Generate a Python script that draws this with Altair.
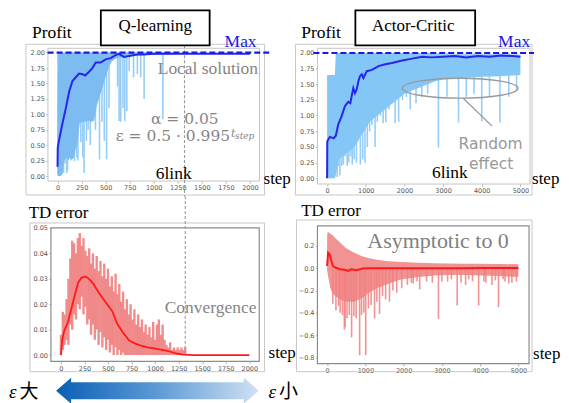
import altair as alt
import pandas as pd

# ---------------- data ----------------
# Q-learning profit: smoothed line
q_line_step = [0, 2, 17, 52, 86, 121, 155, 190, 224, 259,
               286, 328, 362, 397, 448, 500, 552, 604, 638, 690,
               759, 828, 900, 1000, 1250, 1500, 1750, 2000]
q_line_val = [0.15, 0.46, 0.59, 0.86, 1.10, 1.37, 1.54, 1.60, 1.66, 1.65,
              1.63, 1.69, 1.75, 1.84, 1.84, 1.89, 1.91, 1.96, 1.98, 1.93,
              1.95, 1.97, 1.97, 1.98, 1.98, 1.98, 1.98, 1.98]
# Q-learning profit: dense raw band
q_band_step = [0, 8, 30, 50, 70, 90, 110, 130, 150, 170, 190, 210, 230, 260, 290, 320, 350,
               380, 410, 440, 470, 500, 530, 560, 600, 650, 700, 800, 900, 1000, 1100, 1200, 1250]
q_band_lo = [0.0, 0.0, 0.0, 0.02, 0.25, 0.3, 0.25, 0.3, 0.27, 0.3, 0.45, 0.55, 0.85, 0.88, 0.88, 0.9, 0.88,
             0.9, 1.15, 1.3, 1.45, 1.6, 1.75, 1.85, 1.9, 1.92, 1.93, 1.95, 1.96, 1.96, 1.97, 1.97, 1.98]
q_band_hi = [1.05, 2.0, 2.0, 2.0, 2.0, 2.0, 2.0, 2.0, 2.0, 2.0, 2.0, 2.0, 2.0, 2.0, 2.0, 2.0, 2.0,
             2.0, 2.0, 2.0, 2.0, 2.0, 2.0, 2.0, 2.0, 2.0, 2.0, 2.0, 2.0, 2.0, 2.0, 2.0, 2.0]
# Q-learning profit: downward spikes
q_spike_step = [4, 62, 78, 96, 104, 138, 146, 160, 176, 200,
                212, 242, 262, 276, 300, 318, 340, 362, 394, 436,
                462, 486, 510, 535, 624, 640, 657, 680, 699, 720,
                745, 790, 830, 865, 900, 1095]
q_spike_lo = [0.02, 0.05, 0.2, 0.05, 0.1, 0.25, 0.27, 0.3, 0.24, 0.3,
              0.25, 0.55, 0.3, 0.05, 0.57, 0.75, 0.5, 0.88, 0.75, 0.27,
              0.88, 0.57, 0.27, 1.1, 1.45, 0.89, 0.88, 1.1, 0.89, 1.05,
              1.7, 1.6, 1.65, 1.6, 1.25, 0.92]

# Actor-Critic profit: smoothed line
ac_line_step = [0, 5, 30, 70, 120, 170, 225, 287, 374, 460,
                548, 600, 635, 678, 722, 765, 809, 850, 896, 939,
                1026, 1157, 1330, 1504, 1678, 1939, 2200, 2460, 2700, 3000,
                3300, 3600, 3900, 4200, 4500, 4800, 5000]
ac_line_val = [0.0, 0.59, 0.62, 0.66, 0.65, 0.64, 0.68, 0.86, 0.99, 1.15,
               1.22, 1.2, 1.31, 1.44, 1.36, 1.42, 1.55, 1.63, 1.66, 1.6,
               1.71, 1.73, 1.79, 1.82, 1.84, 1.88, 1.91, 1.94, 1.93, 1.94,
               1.95, 1.93, 1.95, 1.94, 1.96, 1.95, 1.94]
ac_band_step = [0, 100, 200, 225, 300, 400, 500, 600, 700, 800, 900, 1000, 1100, 1200, 1300,
                1400, 1500, 1600, 1800, 2000, 2200, 2400, 2600, 2800, 3000, 3500, 4000, 4500, 5000]
ac_band_hi = [1.65, 1.65, 1.65, 2.0, 2.0, 2.0, 2.0, 2.0, 2.0, 2.0, 2.0, 2.0, 2.0, 2.0, 2.0,
              2.0, 2.0, 2.0, 2.0, 2.0, 2.0, 2.0, 2.0, 1.99, 1.98, 1.98, 1.98, 1.98, 1.97]
ac_band_lo = [0.0, 0.0, 0.0, 0.05, 0.3, 0.35, 0.4, 0.45, 0.5, 0.6, 0.7, 0.8, 0.9, 0.95, 1.0,
              1.05, 1.1, 1.15, 1.25, 1.35, 1.4, 1.45, 1.5, 1.55, 1.58, 1.6, 1.62, 1.63, 1.65]
ac_spike_step = [260, 290, 330, 380, 420, 470, 520, 560, 610, 650,
                 700, 760, 800, 860, 920, 980, 1040, 1100, 1160, 1240,
                 1300, 1380, 1450, 1520, 1600, 1680, 1760, 1850, 1950, 2050,
                 2150, 2300, 2450, 2600, 2880, 3100, 3400, 3600, 3800, 4000,
                 4200, 4470, 4700, 4900]
ac_spike_lo = [0.02, 0.2, 0.05, 0.2, 0.22, 0.35, 0.2, 0.25, 0.35, 0.22,
               0.3, 0.25, 0.6, 0.22, 0.3, 0.25, 0.5, 0.75, 0.85, 0.5,
               0.9, 1.0, 0.88, 0.9, 1.1, 1.2, 0.88, 0.9, 1.25, 1.3,
               1.1, 1.2, 1.3, 1.35, 0.49, 1.3, 0.89, 1.3, 1.35, 0.91,
               1.3, 0.89, 1.3, 1.4]

# Q-learning TD error
tdq_line_step = [0, 15, 36, 73, 109, 146, 182, 218, 250, 273,
                 309, 346, 400, 473, 546, 600, 660, 725, 790, 850,
                 920, 990, 1060, 1130, 1200, 1240, 1300, 1400, 1600, 1800, 2000]
tdq_line_val = [0.0, 0.0063, 0.0096, 0.0128, 0.018, 0.0233, 0.0285, 0.0304, 0.0308, 0.0307,
                0.0296, 0.0279, 0.0246, 0.0209, 0.0172, 0.0122, 0.0088, 0.0057, 0.0045, 0.0037,
                0.0030, 0.0026, 0.0021, 0.0016, 0.0009, 0.0005, 0.0002, 0.0, 0.0, 0.0, 0.0]
tdq_raw_step = [0, 20, 40, 60, 80, 100, 120, 140, 160, 180,
                200, 220, 240, 260, 280, 300, 320, 340, 360, 380,
                400, 420, 440, 460, 480, 500, 520, 540, 560, 580,
                600, 620, 640, 660, 680, 700, 720, 740, 760, 780,
                800, 820, 840, 860, 880, 900, 920, 940, 960, 980,
                1000, 1020, 1040, 1060, 1080, 1100, 1120, 1140, 1160, 1180,
                1200, 1220, 1240, 1260, 1280, 1300, 1320]
tdq_raw_hi = [0.008, 0.017, 0.016, 0.022, 0.030, 0.038, 0.045, 0.044, 0.040, 0.046,
              0.048, 0.043, 0.046, 0.041, 0.039, 0.042, 0.036, 0.040, 0.034, 0.039,
              0.033, 0.037, 0.031, 0.036, 0.030, 0.034, 0.027, 0.031, 0.025, 0.032,
              0.024, 0.028, 0.021, 0.025, 0.018, 0.022, 0.016, 0.020, 0.014, 0.018,
              0.012, 0.016, 0.011, 0.014, 0.009, 0.012, 0.008, 0.011, 0.007, 0.013,
              0.006, 0.012, 0.014, 0.008, 0.012, 0.006, 0.004, 0.003, 0.005, 0.002,
              0.003, 0.002, 0.003, 0.002, 0.003, 0.002, 0.003]
tdq_raw_lo = [0.000, 0.002, 0.004, 0.006, 0.004, 0.012, 0.010, 0.016, 0.014, 0.020,
              0.018, 0.023, 0.016, 0.019, 0.012, 0.014, 0.008, 0.012, 0.006, 0.010,
              0.004, 0.009, 0.003, 0.007, 0.002, 0.006, 0.001, 0.004, 0.000, 0.003,
              0.000, 0.002, 0.000, 0.001, 0.000, 0.000, 0.000, 0.000, 0.000, 0.000,
              0.000, 0.000, 0.000, 0.000, 0.000, 0.000, 0.000, 0.000, 0.000, 0.000,
              0.000, 0.000, 0.000, 0.000, 0.000, 0.000, 0.000, 0.000, 0.000, 0.000,
              0.000, 0.000, 0.000, 0.000, 0.000, 0.000, 0.000]

# Actor-Critic TD error
tda_line_step = [0, 25, 68, 100, 150, 210, 340, 466, 550, 635, 760, 930, 1100,
                 1500, 2000, 2500, 3000, 3500, 4000, 4500, 5000]
tda_line_val = [0.02, 0.14, 0.126, 0.08, 0.02, 0.006, -0.009, -0.015, -0.024, -0.009, -0.018, -0.003, 0.0,
                0.0, 0.0, 0.0, 0.0, 0.0, 0.002, 0.002, 0.002]
tda_band_step = [0, 20, 40, 85, 130, 210, 340, 500, 700, 900, 1100, 1300, 1600, 1950,
                 2400, 2800, 3200, 3600, 4000, 4500, 5000]
tda_band_hi = [0.30, 0.33, 0.32, 0.31, 0.30, 0.27, 0.23, 0.18, 0.14, 0.11, 0.09, 0.075, 0.062, 0.056,
               0.05, 0.045, 0.042, 0.04, 0.04, 0.038, 0.035]
tda_band_lo = [-0.02, -0.06, -0.1, -0.18, -0.22, -0.25, -0.28, -0.3, -0.3, -0.27, -0.22, -0.18, -0.14, -0.1,
               -0.08, -0.065, -0.06, -0.06, -0.065, -0.07, -0.08]
tda_spike_step = [150, 230, 300, 340, 400, 450, 470, 520, 580, 640,
                  700, 760, 850, 900, 960, 1010, 1080, 1150, 1240, 1300,
                  1370, 1450, 1530, 1630, 1720, 1820, 1950, 2100, 2200, 2250,
                  2350, 2420, 2600, 2750, 2910, 3000, 3150, 3250, 3400, 3500,
                  3620, 3700, 3800, 3960, 4100, 4150, 4310, 4400, 4480, 4600,
                  4650, 4750, 4830, 4950]
tda_spike_lo = [-0.32, -0.38, -0.34, -0.40, -0.42, -0.55, -0.53, -0.45, -0.42, -0.62,
                -0.43, -0.45, -0.78, -0.42, -0.40, -0.78, -0.36, -0.33, -0.45, -0.30,
                -0.41, -0.25, -0.28, -0.30, -0.20, -0.22, -0.18, -0.15, -0.13, -0.14,
                -0.12, -0.19, -0.12, -0.13, -0.455, -0.12, -0.12, -0.10, -0.335, -0.13,
                -0.15, -0.10, -0.12, -0.335, -0.12, -0.13, -0.15, -0.11, -0.35, -0.10,
                -0.12, -0.14, -0.13, -0.12]

# tick values
q_xticks = [0, 250, 500, 750, 1000, 1250, 1500, 1750, 2000]
ac_xticks = [0, 1000, 2000, 3000, 4000, 5000]
profit_yticks = [0.0, 0.25, 0.5, 0.75, 1.0, 1.25, 1.5, 1.75, 2.0]
tdq_yticks = [0.0, 0.01, 0.02, 0.03, 0.04, 0.05]
tda_yticks = [-0.8, -0.6, -0.4, -0.2, 0.0, 0.2]

# ---------------- helpers ----------------
ONE = pd.DataFrame({"k": [0]})
SERIF = "Liberation Serif"
BLUE_BAND = "#7cbcf0"
BLUE_RAW = "#96cdf6"
BLUE_LINE = "#2626ee"
MAX_BLUE = "#1a1ae0"
RED_RAW = "#f08080"
RED_LINE = "#ff1a1a"
GRAY_TXT = "#858585"


def txt(s, x, y, size, color="black", font=SERIF, align="left", style="normal"):
    return alt.Chart(ONE).mark_text(
        text=s, align=align, baseline="alphabetic", fontSize=size,
        color=color, font=font, fontStyle=style
    ).encode(x=alt.value(x), y=alt.value(y))


def rect(x1, y1, x2, y2, stroke, sw, fill="transparent"):
    return alt.Chart(ONE).mark_rect(fill=fill, stroke=stroke, strokeWidth=sw).encode(
        x=alt.value(x1), x2=alt.value(x2), y=alt.value(y1), y2=alt.value(y2))


def seg(x1, y1, x2, y2, color, sw):
    return alt.Chart(ONE).mark_rule(color=color, strokeWidth=sw).encode(
        x=alt.value(x1), y=alt.value(y1), x2=alt.value(x2), y2=alt.value(y2))


def axis(vals, fmt, offset=0):
    kw = dict(values=vals, format=fmt, title=None, grid=False, domain=False,
              tickSize=2, tickColor="#999", tickWidth=0.8, labelFontSize=6.5,
              labelColor="#555", labelFont="DejaVu Sans", labelPadding=1.5,
              labelFlush=False, labelOverlap=False)
    if offset:
        kw["offset"] = offset
    return alt.Axis(**kw)


def encoders(xdom, ydom, xax, yax):
    xs = alt.Scale(domain=xdom, nice=False, zero=False)
    ys = alt.Scale(domain=ydom, nice=False, zero=False)

    def X(f):
        return alt.X(f, type="quantitative", scale=xs, axis=xax)

    def Y(f):
        return alt.Y(f, type="quantitative", scale=ys, axis=yax)
    return X, Y


ELLIPSE = ("M -1 0 C -1 -0.095 -0.552 -0.172 0 -0.172 C 0.552 -0.172 1 -0.095 1 0 "
           "C 1 0.095 0.552 0.172 0 0.172 C -0.552 0.172 -1 0.095 -1 0 Z")
ARROW = ("M -1 0 L -0.852 -0.128 L -0.852 -0.084 L 0.852 -0.084 L 0.852 -0.128 L 1 0 "
         "L 0.852 0.128 L 0.852 0.084 L -0.852 0.084 L -0.852 0.128 Z")

# ---------------- Q-learning profit (top left) ----------------
X, Y = encoders([-100, 2100], [-0.081, 2.07],
                axis(q_xticks, "d"), axis(profit_yticks, ".2f"))
tl_band = alt.Chart(pd.DataFrame({"s": q_band_step, "lo": q_band_lo, "hi": q_band_hi})).mark_area(
    color=BLUE_BAND, opacity=1).encode(x=X("s"), y=Y("lo"), y2=alt.Y2("hi"))
tl_spk = alt.Chart(pd.DataFrame({"s": q_spike_step, "lo": q_spike_lo, "hi": [2.0] * len(q_spike_step)})).mark_rule(
    color=BLUE_RAW, strokeWidth=1.6).encode(x=X("s"), y=Y("lo"), y2=alt.Y2("hi"))
tl_line = alt.Chart(pd.DataFrame({"s": q_line_step, "v": q_line_val})).mark_line(
    color=BLUE_LINE, strokeWidth=2).encode(x=X("s"), y=Y("v"))
tl_max = alt.Chart(pd.DataFrame({"v": [2.0]})).mark_rule(
    color=MAX_BLUE, strokeWidth=2.2, strokeDash=[6, 3]).encode(y=Y("v"), x=alt.value(-0.3), x2=alt.value(222))
tl_vline = alt.Chart(pd.DataFrame({"s": [1320]})).mark_rule(
    color="#999", strokeWidth=1.1, strokeDash=[3, 2]).encode(x=X("s"), y=alt.value(-3), y2=alt.value(148))

TL = alt.layer(
    rect(-39, -39, -38, -38, "white", 0, fill="white"),
    rect(-22, -4, 217, 147, "#c8c8c8", 1),
    tl_spk, tl_band, tl_line,
    rect(0, 0, 212, 133, "#c4c4c4", 1),
    tl_vline,
    tl_max,
    rect(53, -38, 162, -3, "black", 1.8, fill="white"),
    txt("Q-learning", 107.5, -17, 17, align="center"),
    txt("Profit", -16, -10, 17.5),
    txt("Max", 177, -1.5, 17.5, color=MAX_BLUE),
    txt("Local solution", 110, 25.7, 17.5, color=GRAY_TXT),
    txt("α = 0.05", 171, 75.7, 15.5, color=GRAY_TXT, font="DejaVu Serif", align="right"),
    txt("ε = 0.5 · 0.995", 182.5, 93, 15.5, color=GRAY_TXT, font="DejaVu Serif", align="right"),
    txt("t", 183.5, 88.5, 11, color=GRAY_TXT, font="DejaVu Serif", style="italic"),
    txt("step", 187.5, 91, 9, color=GRAY_TXT, font="DejaVu Serif", style="italic"),
    txt("6link", 108, 131, 17.5),
    txt("step", 216, 136, 17),
).properties(width=212, height=133)

# ---------------- Actor-Critic profit (top right) ----------------
X, Y = encoders([-250, 5250], [-0.091, 2.075],
                axis(ac_xticks, "d"), axis(profit_yticks, ".2f"))
tr_band = alt.Chart(pd.DataFrame({"s": ac_band_step, "lo": ac_band_lo, "hi": ac_band_hi})).mark_area(
    color="#84c6f6", opacity=1).encode(x=X("s"), y=Y("lo"), y2=alt.Y2("hi"))
tr_spk = alt.Chart(pd.DataFrame({"s": ac_spike_step, "lo": ac_spike_lo, "hi": [2.0] * len(ac_spike_step)})).mark_rule(
    color=BLUE_RAW, strokeWidth=1.6).encode(x=X("s"), y=Y("lo"), y2=alt.Y2("hi"))
tr_line = alt.Chart(pd.DataFrame({"s": ac_line_step, "v": ac_line_val})).mark_line(
    color=BLUE_LINE, strokeWidth=2).encode(x=X("s"), y=Y("v"))
tr_max = alt.Chart(pd.DataFrame({"v": [2.0]})).mark_rule(
    color=MAX_BLUE, strokeWidth=2.2, strokeDash=[6, 3]).encode(y=Y("v"), x=alt.value(-4), x2=alt.value(217))
tr_ell = alt.Chart(ONE).mark_point(
    shape=ELLIPSE, size=116 * 116, filled=False, color="#999", strokeWidth=1.3, opacity=1
).encode(x=alt.value(143), y=alt.value(40))

TR = alt.layer(
    rect(-22, -4, 215, 147, "#c8c8c8", 1),
    tr_spk, tr_band, tr_line,
    rect(0, 0, 213, 136, "#c4c4c4", 1),
    tr_max,
    tr_ell,
    seg(146, 50, 175, 78, "#999", 1.3),
    rect(38, -38, 158, -3, "black", 1.8, fill="white"),
    txt("Actor-Critic", 96, -17, 17, align="center"),
    txt("Profit", -16.3, -10, 17.5),
    txt("Max", 181, -1.5, 17.5, color=MAX_BLUE),
    txt("Random", 173.5, 101, 15.5, color="#999", font="DejaVu Sans", align="center"),
    txt("effect", 174, 121, 15.5, color="#999", font="DejaVu Sans", align="center"),
    txt("6link", 114.7, 129.7, 17.5),
    txt("step", 215, 136, 17),
).properties(width=213, height=136)

# ---------------- Q-learning TD error (bottom left) ----------------
X, Y = encoders([-138, 2109], [-0.00263, 0.05079],
                axis(q_xticks, "d"), axis(tdq_yticks, ".2f", offset=-3))
bl_raw = alt.Chart(pd.DataFrame({"s": tdq_raw_step, "lo": tdq_raw_lo, "hi": tdq_raw_hi})).mark_rule(
    color=RED_RAW, strokeWidth=2.4, opacity=0.9).encode(x=X("s"), y=Y("lo"), y2=alt.Y2("hi"))
bl_line = alt.Chart(pd.DataFrame({"s": tdq_line_step, "v": tdq_line_val})).mark_line(
    color=RED_LINE, strokeWidth=1.8).encode(x=X("s"), y=Y("v"))
bl_vline = alt.Chart(pd.DataFrame({"s": [1320]})).mark_rule(
    color="#999", strokeWidth=1.1, strokeDash=[3, 2]).encode(x=X("s"), y=alt.value(-30), y2=alt.value(129))
arrow = alt.Chart(ONE).mark_point(
    shape=ARROW, size=203 * 203, filled=True, opacity=1, strokeWidth=0,
    fill=alt.Gradient(gradient="linear", x1=0, x2=1, y1=0, y2=0,
                      stops=[alt.GradientStop(color="#0a5fb4", offset=0),
                             alt.GradientStop(color="#5d9ad6", offset=0.5),
                             alt.GradientStop(color="#d2e1f3", offset=1)])
).encode(x=alt.value(109.7), y=alt.value(165))

BL = alt.layer(
    rect(-18, -3, 217, 146, "#c8c8c8", 1),
    bl_raw, bl_line,
    rect(3, 2, 211.7, 135.7, "#8c8c8c", 1.2),
    bl_vline,
    txt("TD error", -19.3, -8, 17),
    txt("Convergence", 117, 86.7, 17.5, color=GRAY_TXT),
    txt("step", 221, 132, 17),
    arrow,
    txt("ε", -39, 172, 19, style="italic"),
    txt("大", -28.5, 172, 19, font="Noto Sans CJK JP"),
    txt("ε", 221, 172, 19, style="italic"),
    txt("小", 231.5, 172, 19, font="Noto Sans CJK JP"),
).properties(width=212, height=136)

# ---------------- Actor-Critic TD error (bottom right) ----------------
X, Y = encoders([-253, 5279], [-0.857, 0.379],
                axis(ac_xticks, "d"), axis(tda_yticks, ".1f"))
br_band = alt.Chart(pd.DataFrame({"s": tda_band_step, "lo": tda_band_lo, "hi": tda_band_hi})).mark_area(
    color=RED_RAW, opacity=0.85).encode(x=X("s"), y=Y("lo"), y2=alt.Y2("hi"))
br_spk = alt.Chart(pd.DataFrame({"s": tda_spike_step, "lo": tda_spike_lo, "hi": [0.0] * len(tda_spike_step)})).mark_rule(
    color=RED_RAW, strokeWidth=1.6, opacity=0.85).encode(x=X("s"), y=Y("lo"), y2=alt.Y2("hi"))
br_line = alt.Chart(pd.DataFrame({"s": tda_line_step, "v": tda_line_val})).mark_line(
    color=RED_LINE, strokeWidth=2).encode(x=X("s"), y=Y("v"))

BR = alt.layer(
    rect(-21, -6, 215, 146, "#c8c8c8", 1),
    br_band, br_spk, br_line,
    rect(0, 0, 212, 138, "#8c8c8c", 1.2),
    txt("TD error", -16.3, -10, 17),
    txt("Asymptotic to 0", 50, 21.7, 22, color="#808080"),
    txt("step", 216, 133, 17),
).properties(width=212, height=138)

chart = alt.concat(
    TL, TR, BL, BR, columns=2, align="each", bounds="flush",
    spacing={"row": 42, "column": 58}
).properties(padding=0, background="white").configure_view(stroke="transparent")

chart.save("out.html", embed_options={"renderer": "svg", "actions": False})
